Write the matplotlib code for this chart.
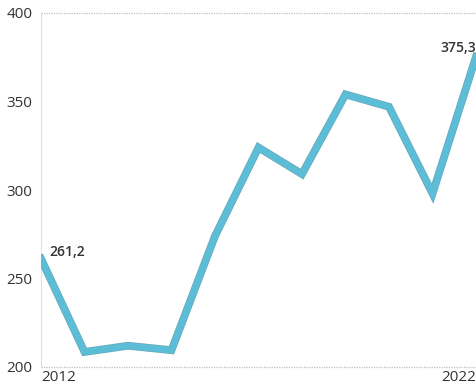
import matplotlib

matplotlib.use("Agg")
import matplotlib.pyplot as plt
import matplotlib.patheffects as pe

years = [2012, 2013, 2014, 2015, 2016, 2017, 2018, 2019, 2020, 2021, 2022]
values = [261.2, 208.5, 212.0, 209.5, 274.0, 324.0, 309.0, 354.0, 347.0, 298.0, 375.3]
y_ticks = [200, 250, 300, 350, 400]
x_tick_labels = ["2012", "2022"]

LINE = "#5bbdd6"
TEXT = "#333333"

plt.rcParams["font.family"] = ["Open Sans", "DejaVu Sans"]

fig = plt.figure(figsize=(4.76, 3.84), dpi=100, facecolor="white")
ax = fig.add_axes([41 / 476, 17 / 384, 435 / 476, 354 / 384])
ax.set_facecolor("white")

ax.plot(
    years,
    values,
    color=LINE,
    linewidth=4.6,
    solid_joinstyle="miter",
    path_effects=[pe.Stroke(linewidth=5.6, foreground="#6aa7b8"), pe.Normal()],
    zorder=3,
)

ax.set_xlim(2012, 2022)
ax.set_ylim(200, 400)

# top and bottom reference lines only
for v in (200, 400):
    ax.axhline(v, color="#bdbdbd", linewidth=0.9, linestyle=(0, (1, 1)), zorder=1, clip_on=False)

for s in ("top", "right", "bottom"):
    ax.spines[s].set_visible(False)
ax.spines["left"].set_color("#e0e0e0")
ax.spines["left"].set_linewidth(0.8)

ax.set_yticks(y_ticks)
ax.set_yticklabels([str(t) for t in y_ticks], fontsize=11, color=TEXT)
ax.tick_params(axis="y", length=0, pad=6)
ax.set_xticks([])

# x labels at the ends
ax.annotate(x_tick_labels[0], xy=(years[0], 200), xytext=(0, -2), textcoords="offset points",
            fontsize=11, color=TEXT, ha="left", va="top", annotation_clip=False)
ax.annotate(x_tick_labels[1], xy=(years[-1], 200), xytext=(0, -2), textcoords="offset points",
            fontsize=11, color=TEXT, ha="right", va="top", annotation_clip=False)

# value labels
ax.annotate("261,2", xy=(years[0], values[0]), xytext=(6, 5), textcoords="offset points",
            fontsize=10, fontweight="semibold", color=TEXT, ha="left", va="center")
ax.annotate("375,3", xy=(years[-1], values[-1]), xytext=(0, 1), textcoords="offset points",
            fontsize=10, fontweight="semibold", color=TEXT, ha="right", va="bottom",
            annotation_clip=False)

fig.savefig("out.png", dpi=100, facecolor="white")
